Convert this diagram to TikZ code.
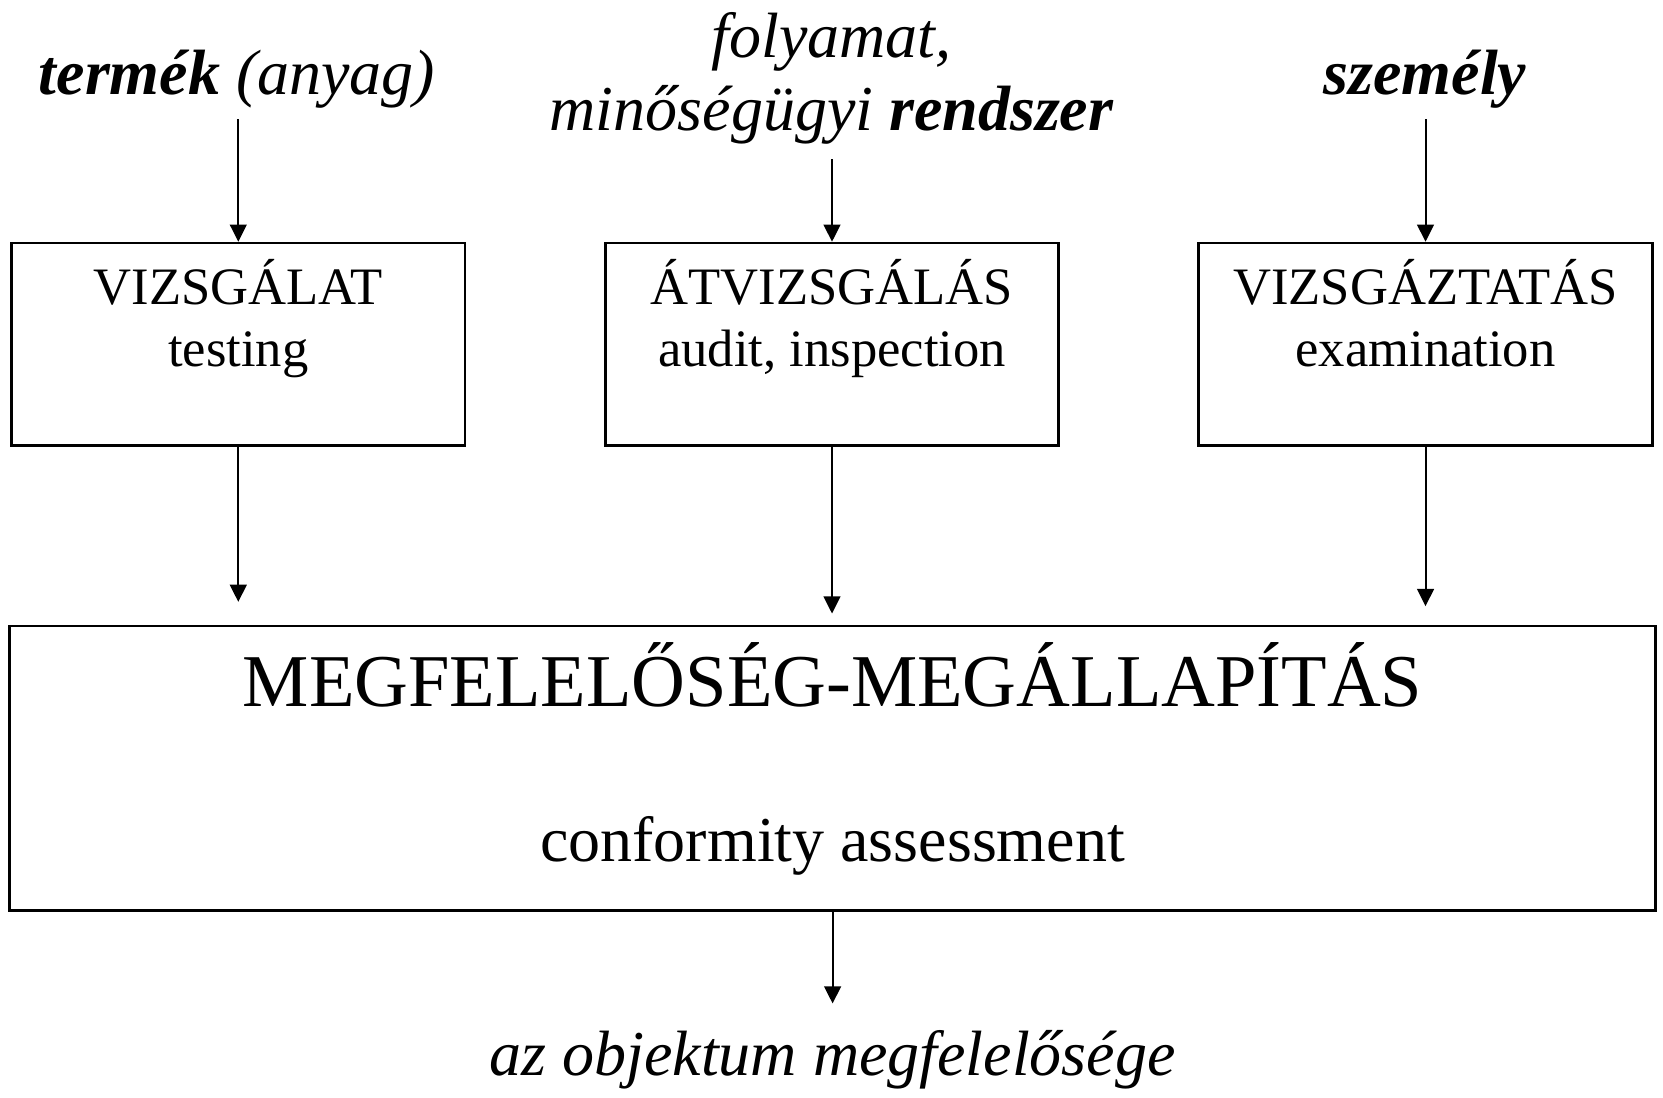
\documentclass[tikz,border=0pt]{standalone}
\usepackage{fontspec}
\setmainfont{Liberation Serif}
\usetikzlibrary{arrows.meta, positioning}
\tikzset{
  doboz/.style={% Style for the three small boxes
      rectangle, line width=1.3pt,
      draw=black,
      minimum width=226.75pt,
      minimum height=101.15pt,
      align=center,
      inner sep=0pt,
      font=\fontsize{26.3}{31.35}\selectfont,
      text height=60pt,
          text depth=37.5pt,
  },
  nagydoboz/.style={% Style for the wide box
      rectangle, line width=1.4pt,
      draw=black,
      minimum width=823.1pt,
      minimum height=142.35pt,
      align=center,
      inner sep=0pt,
      font=\fontsize{32}{77.5}\selectfont,
      text height=110pt,
          text depth=16.6pt,
  },
  cimke/.style={% italic labels over and under the boxes
      anchor=base, align=center,
      inner sep=5pt,
      font=\fontsize{32}{36}\selectfont\itshape,
  },
  nyil/.style={-{Triangle[length=8.6pt,width=8.4pt]}, line width=1pt},
}

\begin{document}
\begin{tikzpicture}[x=0.5pt, y=-0.5pt]
  \fill[white] (0,0) rectangle (1663,1097);
  \useasboundingbox (0,0) rectangle (1663,1097);
  % what is checked
  \node[cimke] (termek) at (237,95) {\textbf{termék} (anyag)};
  \node[cimke] (folyamat) at (831.5,130) {folyamat,\\minőségügyi \textbf{rendszer}};
  \node[cimke] (szemely) at (1425,95) {\textbf{személy}};
  % the three boxes
  \node[doboz] (vizsgalat) at (238.3,344.2) {VIZSGÁLAT\\testing};
  \node[doboz] (atvizsgalas) at (832,344.2) {ÁTVIZSGÁLÁS\\audit, inspection};
  \node[doboz] (vizsgaztatas) at (1425.5,344.2) {VIZSGÁZTATÁS\\examination};
  % wide box
  \node[nagydoboz] (megfeleloseg) at (832.6,768.3)
    {{\fontsize{37.25}{77.5}\selectfont MEGFELELŐSÉG-MEGÁLLAPÍTÁS}\\conformity assessment};
  \node[cimke] (eredmeny) at (832.5,1075) {az objektum megfelelősége};
  % arrows
  \draw[nyil] (vizsgalat.north |- termek.south) -- (vizsgalat.north);
  \draw[nyil, shorten <=2.5pt] (atvizsgalas.north |- folyamat.south) -- (atvizsgalas.north);
  \draw[nyil] (vizsgaztatas.north |- szemely.south) -- (vizsgaztatas.north);
  \draw[nyil, shorten >=11.35pt] (vizsgalat.south) -- (vizsgalat.south |- megfeleloseg.north);
  \draw[nyil, shorten >=5.5pt] (atvizsgalas.south) -- (atvizsgalas.south |- megfeleloseg.north);
  \draw[nyil, shorten >=9.2pt] (vizsgaztatas.south) -- (vizsgaztatas.south |- megfeleloseg.north);
  \draw[nyil, shorten >=8pt] (megfeleloseg.south) -- (megfeleloseg.south |- eredmeny.north);
\end{tikzpicture}
\end{document}
